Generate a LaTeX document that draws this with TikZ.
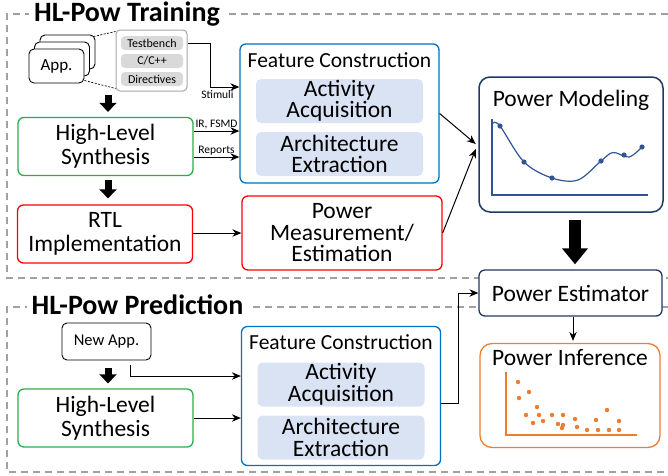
\documentclass[tikz,border=0pt]{standalone}
\usepackage{fontspec}
\setmainfont{Carlito}
\usetikzlibrary{arrows.meta, positioning}
\definecolor{framegray}{RGB}{160,160,160}
\definecolor{codegray}{RGB}{166,166,166}
\definecolor{pillgray}{RGB}{217,217,217}
\definecolor{synthgreen}{RGB}{40,175,70}
\definecolor{rtlred}{RGB}{255,0,0}
\definecolor{featblue}{RGB}{0,112,192}
\definecolor{subblue}{RGB}{218,227,243}
\definecolor{navy}{RGB}{31,56,100}
\definecolor{plotblue}{RGB}{47,85,151}
\definecolor{inforange}{RGB}{237,125,49}
\newcommand{\boxfont}{\fontsize{23.5}{21.5}\selectfont}
\newcommand{\synthfont}{\fontsize{23.5}{24}\selectfont}
\newcommand{\featfont}{\fontsize{21.5}{23}\selectfont}
\newcommand{\labfont}{\fontsize{11.5}{13}\selectfont}
\newcommand{\pillfont}{\fontsize{12}{13}\selectfont}
\newcommand{\appfont}{\fontsize{17}{18}\selectfont}
\newcommand{\titlefont}{\fontsize{28}{30}\selectfont\bfseries}
\tikzstyle{frame} = [draw=framegray, line width=1.3pt, dash pattern=on 7pt off 5pt]
\tikzstyle{framelabel} = [fill=white, inner sep=5pt, font=\titlefont]
\tikzstyle{card} = [rectangle, rounded corners=5pt, draw=black, fill=white, line width=0.9pt, minimum width=55pt, minimum height=34pt, font=\appfont]
\tikzstyle{codebox} = [rectangle, rounded corners=4pt, draw=codegray, fill=white, line width=1pt, minimum width=71pt, minimum height=61pt]
\tikzstyle{pill} = [rectangle, rounded corners=4pt, fill=pillgray, minimum width=62pt, minimum height=14pt, inner sep=0pt, font=\pillfont]
\tikzstyle{synth} = [rectangle, rounded corners=6pt, draw=synthgreen, line width=1.3pt, minimum width=175pt, minimum height=58pt, align=center, font=\synthfont]
\tikzstyle{rtlbox} = [synth, draw=rtlred]
\tikzstyle{featbox} = [rectangle, rounded corners=6pt, draw=featblue, line width=1.3pt, minimum width=199pt, minimum height=139pt]
\tikzstyle{subbox} = [rectangle, rounded corners=5pt, fill=subblue, minimum width=167pt, minimum height=44pt, inner sep=0pt, align=center, font=\boxfont]
\tikzstyle{measbox} = [rectangle, rounded corners=6pt, draw=rtlred, line width=1.3pt, minimum width=200pt, minimum height=74pt, align=center, font=\boxfont]
\tikzstyle{modelbox} = [rectangle, rounded corners=11pt, draw=navy, line width=1.5pt, minimum width=184pt, minimum height=135pt]
\tikzstyle{estbox} = [rectangle, rounded corners=6pt, draw=navy, fill=white, line width=1.3pt, minimum width=183pt, minimum height=46pt, font=\boxfont]
\tikzstyle{inferbox} = [rectangle, rounded corners=12pt, draw=inforange, line width=1.3pt, minimum width=180pt, minimum height=104pt]
\tikzstyle{newbox} = [rectangle, rounded corners=5pt, draw=black, line width=0.9pt, minimum width=89pt, minimum height=37pt, font=\fontsize{16.5}{18}\selectfont]
\tikzstyle{arrow} = [line width=1pt, ->, >={Stealth[length=9pt, width=7.5pt]}]
\tikzstyle{fatarrow} = [line width=7pt, -{Triangle[length=9pt, width=17pt]}]
\tikzstyle{bigarrow} = [line width=12pt, -{Triangle[length=16pt, width=25pt]}]

\begin{document}
\begin{tikzpicture}[x=1pt, y=-1pt, node distance=53pt]
        \useasboundingbox (0,0) rectangle (668,475);
        % dashed frames
        \draw [frame] (668,14) -- (7,14) -- (7,278) -- (668,278);
        \draw [frame] (668,307) -- (7,307) -- (7,472) -- (668,472);
        \node (train) [framelabel] at (127,14) {HL-Pow Training};
        \node (pred) [framelabel] at (137.5,305) {HL-Pow Prediction};
        % training
        \node (app3) [card] at (67.5,52) {};
        \node (app2) [card] at (62,59) {};
        \node (app1) [card] at (56.5,66) {App.};
        \node (code) [codebox] at (151.5,60.5) {};
        \node (tb) [pill] at (152,43) {Testbench};
        \node (cc) [pill] at (152,61) {C/C++};
        \node (dir) [pill] at (152,79) {Directives};
        \node (hls1) [synth] at (105.5,146.5) {High-Level\\Synthesis};
        \node (rtl) [rtlbox] at (105,234) {RTL\\Implementation};
        \node (fc1) [featbox] at (339.5,113.5) {};
        \node (fc1title) [font=\featfont] at (339.5,60) {Feature Construction};
        \node (aa1) [subbox, below of=fc1title, yshift=12pt] {Activity\\Acquisition};
        \node (ae1) [subbox, below of=aa1] {Architecture\\Extraction};
        \node (pm) [measbox] at (342,233) {Power\\Measurement/\\Estimation};
        \node (model) [modelbox] at (571,144.5) {};
        \node (modeltitle) [font=\boxfont] at (571,100) {Power Modeling};
        \node (pe) [estbox] at (570.5,293) {Power Estimator};
        \node (pi) [inferbox] at (570,395.5) {};
        \node (pititle) [font=\boxfont] at (570,358) {Power Inference};
        % prediction
        \node (newapp) [newbox] at (106.5,341.5) {New App.};
        \node (hls2) [synth] at (105.5,418) {High-Level\\Synthesis};
        \node (fc2) [featbox] at (341,396) {};
        \node (fc2title) [font=\featfont] at (341,342) {Feature Construction};
        \node (aa2) [subbox, below of=fc2title, yshift=10.5pt] {Activity\\Acquisition};
        \node (ae2) [subbox, below of=aa2] {Architecture\\Extraction};
        % plots
        \draw [plotblue, line width=1.2pt] (492,119) -- (492,195) -- (648,195);
        \draw [plotblue, line width=1.2pt] plot [smooth, tension=0.55] coordinates {(493,123) (500,126) (524,162) (552,178) (578,180) (601,161) (613,152.5) (629,157) (642,147)};
        \fill [plotblue] (500,126) circle (2.6pt) (524,162) circle (2.6pt) (552,178) circle (2.6pt) (601,161) circle (2.6pt) (624,155) circle (2.6pt) (642,147) circle (2.6pt);
        \draw [inforange, line width=1.1pt] (506,372) -- (506,435) -- (637,435);
        \fill [inforange] (518,382) circle (2.2pt) (519,398) circle (2.2pt) (529,392) circle (2.2pt) (537,407) circle (2.2pt) (526,415) circle (2.2pt) (539,415) circle (2.2pt) (533,423) circle (2.2pt) (543,421) circle (2.2pt) (552,415) circle (2.2pt) (563,415) circle (2.2pt) (558,424) circle (2.2pt) (563,425) circle (2.2pt) (562,428) circle (2.2pt) (575,419) circle (2.2pt) (577,427) circle (2.2pt) (587,430) circle (2.2pt) (596,420) circle (2.2pt) (598,430) circle (2.2pt) (607,410) circle (2.2pt) (609,430) circle (2.2pt) (619,421) circle (2.2pt) (619,430) circle (2.2pt);
        % connectors
        \draw [dash pattern=on 2pt off 1.5pt, line width=0.7pt] ([xshift=-2pt, yshift=-2pt]app3.north east) -- ([yshift=-2pt]code.north west);
        \draw [dash pattern=on 2pt off 1.5pt, line width=0.7pt] ([yshift=3pt]app1.south east) -- ([yshift=3pt]code.south west);
        \draw [arrow] ([yshift=17.5pt]code.east) -- ++(23,0) |- ([yshift=26.5pt]fc1.west) node[below, pos=0.62, font=\labfont]{Stimuli};
        \draw [arrow] ([yshift=15.5pt]hls1.east) -- node[above, font=\labfont, inner sep=1.5pt]{IR, FSMD} ([yshift=15.5pt]hls1.east -| fc1.west);
        \draw [arrow] ([yshift=-10.5pt]hls1.east) -- node[above, font=\labfont, inner sep=1.5pt]{Reports} ([yshift=-10.5pt]hls1.east -| fc1.west);
        \draw [fatarrow] ([xshift=2.5pt, yshift=22pt]hls1.north) -- ([xshift=2.5pt, yshift=5pt]hls1.north);
        \draw [fatarrow] ([xshift=2.5pt, yshift=-4pt]hls1.south) -- ([xshift=3pt, yshift=6pt]rtl.north);
        \draw [arrow] (rtl.east |- pm.west) -- (pm.west);
        \draw [arrow] (fc1.east) -- ([xshift=-2.5pt, yshift=0.5pt]model.west);
        \draw [arrow] (pm.east) -- ([xshift=-2.5pt, yshift=-4.5pt]model.west);
        \draw [bigarrow] ([xshift=4pt, yshift=-7pt]model.south) -- ([xshift=4.5pt, yshift=5pt]pe.north);
        \draw [arrow] ([xshift=2.5pt]pe.south) -- ([xshift=3pt, yshift=2pt]pi.north);
        \draw [fatarrow] ([xshift=1.5pt, yshift=-8pt]newapp.south) -- ([xshift=2.5pt, yshift=5pt]hls2.north);
        \draw [arrow] ([xshift=23.5pt, yshift=-5pt]newapp.south) |- ([yshift=20pt]fc2.west);
        \draw [arrow] (hls2.east) -- (hls2.east -| fc2.west);
        \draw [arrow] ([yshift=-7pt]fc2.east) -- ++(17,0) |- (pe.west);
\end{tikzpicture}
\end{document}
